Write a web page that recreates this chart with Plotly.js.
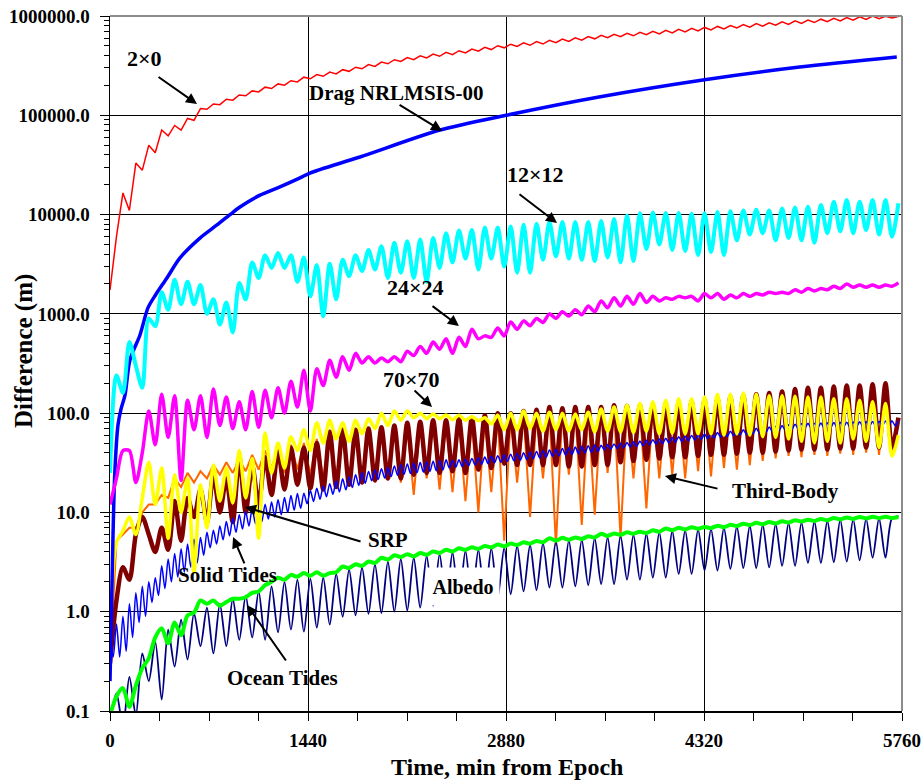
<!DOCTYPE html>
<html>
<head>
<meta charset="utf-8">
<script src="https://cdn.plot.ly/plotly-3.0.1.min.js"></script>
<style>html,body{margin:0;padding:0;background:#fff;}#chart{width:924px;height:780px;}</style>
</head>
<body>
<div id="chart"></div>
<script>
// ---- time grids (minutes from epoch) ----
const T_HALF = [0,47,94,141,188,235,282,329,376,423,470,517,564,611,658,705,752,799,846,893,940,987,1034,1081,1128,1175,1222,1269,1316,1363,1410,1457,1504,1551,1598,1645,1692,1739,1786,1833,1880,1927,1974,2021,2068,2115,2162,2209,2256,2303,2350,2397,2444,2491,2538,2585,2632,2679,2726,2773,2820,2867,2914,2961,3008,3055,3102,3149,3196,3243,3290,3337,3384,3431,3478,3525,3572,3619,3666,3713,3760,3807,3854,3901,3948,3995,4042,4089,4136,4183,4230,4277,4324,4371,4418,4465,4512,4559,4606,4653,4700,4747,4794,4841,4888,4935,4982,5029,5076,5123,5170,5217,5264,5311,5358,5405,5452,5499,5546,5593,5640,5687,5734];
const T_QUARTER = [0,23.5,47,70.5,94,117.5,141,164.5,188,211.5,235,258.5,282,305.5,329,352.5,376,399.5,423,446.5,470,493.5,517,540.5,564,587.5,611,634.5,658,681.5,705,728.5,752,775.5,799,822.5,846,869.5,893,916.5,940,963.5,987,1010.5,1034,1057.5,1081,1104.5,1128,1151.5,1175,1198.5,1222,1245.5,1269,1292.5,1316,1339.5,1363,1386.5,1410,1433.5,1457,1480.5,1504,1527.5,1551,1574.5,1598,1621.5,1645,1668.5,1692,1715.5,1739,1762.5,1786,1809.5,1833,1856.5,1880,1903.5,1927,1950.5,1974,1997.5,2021,2044.5,2068,2091.5,2115,2138.5,2162,2185.5,2209,2232.5,2256,2279.5,2303,2326.5,2350,2373.5,2397,2420.5,2444,2467.5,2491,2514.5,2538,2561.5,2585,2608.5,2632,2655.5,2679,2702.5,2726,2749.5,2773,2796.5,2820,2843.5,2867,2890.5,2914,2937.5,2961,2984.5,3008,3031.5,3055,3078.5,3102,3125.5,3149,3172.5,3196,3219.5,3243,3266.5,3290,3313.5,3337,3360.5,3384,3407.5,3431,3454.5,3478,3501.5,3525,3548.5,3572,3595.5,3619,3642.5,3666,3689.5,3713,3736.5,3760,3783.5,3807,3830.5,3854,3877.5,3901,3924.5,3948,3971.5,3995,4018.5,4042,4065.5,4089,4112.5,4136,4159.5,4183,4206.5,4230,4253.5,4277,4300.5,4324,4347.5,4371,4394.5,4418,4441.5,4465,4488.5,4512,4535.5,4559,4582.5,4606,4629.5,4653,4676.5,4700,4723.5,4747,4770.5,4794,4817.5,4841,4864.5,4888,4911.5,4935,4958.5,4982,5005.5,5029,5052.5,5076,5099.5,5123,5146.5,5170,5193.5,5217,5240.5,5264,5287.5,5311,5334.5,5358,5381.5,5405,5428.5,5452,5475.5,5499,5522.5,5546,5569.5,5593,5616.5,5640,5663.5,5687,5710.5,5734];
const DRAG_T = [0,15,22,35,58,80,109,145,218,276,331,414,509,654,778,873,945,1091,1236,1382,1454,1818,2400,2880,3556,4312,5016,5722];

// ---- series values (m) ----
const GRAV_2X0 = [1740,6000,16500,11000,33000,28000,50000,42000,71000,62000,79000,71000,93000,89000,117000,
115000,130000,128000,145000,142000,160000,157000,176000,172000,192000,
186000,207000,201000,223000,217000,242000,233000,257000,247000,272000,
261000,288000,277000,305000,294000,324000,311000,343000,330000,363000,
349000,382000,363000,397000,378000,413000,393000,430000,408000,447000,
425000,465000,442000,483000,459000,502000,478000,520000,493000,536000,
507000,552000,522000,569000,538000,585000,555000,603000,571000,621000,
589000,640000,604000,655000,618000,670000,632000,685000,647000,701000,
661000,716000,676000,733000,692000,750000,708000,767000,724000,785000,
740000,802000,757000,818000,773000,838000,791000,855000,807000,875000,
824000,893000,843000,912000,859000,929000,875000,946000,891000,964000,
908000,982000,925000,998000,942000,995000,957000,990000];
const DRAG = [0.2,2,6,25,76,110,152,343,613,1150,1550,2300,3660,5800,7860,10000,11900,15700,19000,23400,26200,38000,71000,100000,153000,227000,306000,386000];
const GRAV_12X12 = [25,240,160,520,300,180,900,750,1650,1100,
2200,1250,2100,1250,1950,1000,1400,780,1300,650,
2050,1400,3300,2300,3900,2900,4100,2900,3900,2100,
3700,1500,3100,950,3200,1400,3500,2400,3900,2700,
4400,2800,4800,2300,5200,2600,5400,2300,5600,2100,
5800,2900,6500,3300,6900,3600,7000,2800,7400,3600,
7400,3000,7600,2600,7900,2600,8100,3500,8400,3800,
8400,3600,8400,3500,8400,3400,8600,3700,9000,3300,
9800,3400,10300,4500,10500,5000,10400,4400,10400,4300,
10200,3900,10300,4200,10600,3900,10800,5500,11000,6300,
11200,6500,11000,5500,11500,5800,11800,5500,12000,5200,
12500,6500,13500,6800,14000,6500,13500,7000,14000,6300,
14000,6000,13000];
const GRAV_24X24 = [12,22,42,42,20,40,105,48,155,57,
150,21,135,68,150,57,175,75,145,70,
130,68,165,72,170,90,180,100,210,115,
270,105,280,190,340,230,370,270,400,320,
370,320,360,330,370,330,420,380,470,400,
520,440,560,400,580,470,700,560,600,580,
720,600,830,700,850,760,900,820,1000,900,
1050,950,1100,980,1200,1050,1350,1150,1450,1200,
1500,1250,1600,1300,1500,1350,1450,1400,1500,1450,
1500,1350,1600,1450,1600,1400,1550,1450,1600,1500,
1600,1550,1650,1600,1650,1600,1750,1650,1800,1700,
1800,1750,1900,1800,2000,1850,1950,1850,1950,1850,
1950,1900,2050];
const GRAV_70X70 = [0.6,5,6.5,9,6,14,32,12,28,5.5,
24,10,22,2.5,19,7,30,13,28,12.5,
42,14,35,5.5,63,25,50,28,58,42,
68,42,80,50,85,55,80,52,85,62,
88,70,100,75,105,85,105,90,100,88,
98,88,96,86,95,85,92,84,90,78,
95,68,100,68,105,70,100,66,102,68,
100,66,98,68,102,65,110,66,115,65,
120,64,125,66,130,62,135,63,140,62,
140,62,145,62,155,60,155,62,160,60,
155,58,150,57,150,55,148,52,145,50,
145,52,140,50,140,55,135,52,130,45,
125,37,60];
const SRP = [0.3,1.3,2.8,2.1,6,9,6,4,7,4.2,
13,5.2,14,9,17,8,24,10,22,8,
36,10,30,12,36,15,42,17,45,19,
45,17.5,50,17,65,18,68,19,68,20,
70,21,72,22,75,22,80,24,82,25,
85,25,85,26,88,25,90,27,95,28,
100,31,100,30,105,30,108,30,115,30,
112,29,115,29,115,30,115,30,120,32,
118,33,120,34,120,35,122,36,125,36,
130,37,135,38,140,38,145,39,150,40,
155,40,160,41,165,42,175,43,180,43,
180,43,185,44,190,44,190,45,195,45,
200,45,90];
const THIRD_BODY = [0.3,5.2,6,7,7,10,12,12,15,14,
22,18,25,20,26,22,30,24,32,25,
34,26,38,27,42,28,45,25,48,27,
50,24,55,22,60,22,62,21,65,20,
68,21,70,22,72,20,75,15,78,22,
80,17,82,16,85,13,86,10,90,16,
92,5.2,95,20,98,9,100,22,105,4.6,
108,24,110,7.5,110,9.5,112,25,115,5.5,
115,22,115,11,118,22,120,24,122,22,
125,26,130,23,132,28,135,27,138,30,
140,33,142,35,145,37,150,36,152,38,
155,37,160,39,160,38,162,40,165,38,
165,40,80];
const SOLID_TIDES = [0.6,0.35,0.75,0.35,0.9,0.4,1.2,0.55,1.55,0.78,
1.8,0.9,2.0,1.24,2.2,1.46,2.9,1.71,3.4,2.0,
3.85,2.23,4.3,2.5,4.8,2.8,5.4,3.1,5.6,3.7,
6.3,4.4,6.6,4.8,7.3,5.3,8.1,5.8,8.8,6.3,
9.5,6.8,10.2,7.3,10.9,7.7,11.5,8.1,12.1,8.6,
12.7,9.0,13.4,9.5,14.1,10.0,14.8,10.5,15.5,11.0,
15.6,12.2,16.6,12.9,17.5,13.6,18.5,14.4,19.5,15.2,
20.7,16.1,21.8,16.9,22.9,17.8,24,18.7,25.3,19.7,
25.9,20.9,26.7,21.5,27.5,22.2,28.4,23,29.4,23.7,
30.3,24.2,30.8,24.6,31.3,25.1,31.8,25.5,32.3,25.9,
32.8,26.3,33.3,26.7,33.9,28.1,33.3,28.6,33.9,29,
34.4,29.5,35,30.1,35.6,30.5,36.1,31,36.7,31.6,
37.3,32.1,38,32.6,38.6,33.1,39.3,33.7,39.9,34.2,
40.6,34.8,41.2,35.4,41.9,36,42.6,36.6,43.3,37.2,
44,37.8,44.7,38.4,45.5,39,46.2,39.6,47,40.3,
47.8,40.9,47.4,42.7,48.2,43.4,49,44.1,49.8,44.8,
50.6,45.5,51.5,46.2,52.4,47,53.2,47.8,54.1,48.5,
55,49.4,55.8,50.2,56.8,51,57.7,51.9,58.6,52.7,
59.7,53.6,60.7,54.5,61.7,55.3,62.7,56.2,63.7,57.3,
64.7,58.2,65.8,59.2,66.8,60.1,67.9,61.1,69.2,62.1,
70.3,63.1,71.4,64.1,72.6,65.2,73.8,66.4,75,67.5,
76.2,68.5,77.4,69.7,78.5,70.1,78.9,70.5,79.3,70.8,
79.6,71.1,80,71.4,80.4,71.8,80.8,72.1,81.1,72.4,
81.5,72.8,81.8,73.1,82.2,73.5,82.6,73.8,83,74.1,
83.4,74.5,83.8,74.8,84.1];
const OCEAN_TIDES = [0.09,0.14,0.17,0.11,0.18,0.27,0.34,0.55,0.68,0.48,
0.78,0.58,0.92,0.98,1.3,1.2,1.3,1.15,1.25,1.35,
1.35,1.4,1.55,1.6,1.85,2.0,2.2,2.1,2.35,2.25,
2.45,2.3,2.5,2.3,2.45,2.5,2.85,2.75,3.0,2.9,
3.2,3.1,3.5,3.35,3.7,3.55,3.8,3.6,3.9,3.75,
4.05,3.9,4.2,4.05,4.35,4.2,4.45,4.3,4.6,4.45,
4.75,4.55,4.85,4.7,5.0,4.85,5.15,5.0,5.5,5.2,
5.55,5.3,5.6,5.4,5.75,5.6,6.1,5.8,6.15,5.95,
6.3,6.1,6.4,6.2,6.6,6.4,6.9,6.6,7.0,6.75,
7.1,6.85,7.15,6.95,7.35,7.1,7.5,7.3,7.7,7.45,
7.85,7.6,8.0,7.75,8.15,7.9,8.35,8.1,8.45,8.2,
8.6,8.35,8.8,8.5,8.9,8.6,9.0,8.7,9.05,8.75,
9.05,8.8,9.0];
const ALBEDO = [0.08,0.15,0.07,0.22,0.09,0.38,0.2,0.5,0.13,0.66,
0.28,0.83,0.33,0.97,0.45,1.1,0.38,1.2,0.45,1.35,
0.52,1.45,0.55,1.6,0.52,1.8,0.62,2.0,0.66,2.1,
0.63,2.15,0.69,2.2,0.74,2.4,0.89,2.65,0.92,2.8,
0.95,3.0,0.97,3.2,1.0,3.4,1.03,3.5,1.1,3.65,
1.15,3.8,1.2,3.95,1.25,4.1,1.3,4.2,1.35,4.35,
1.4,4.4,1.5,4.6,1.6,4.7,1.65,4.9,1.75,5.1,
1.75,5.2,1.8,5.3,1.85,5.5,1.9,5.6,1.9,5.8,
2.1,5.95,2.1,6.1,2.2,6.3,2.2,6.5,2.4,6.6,
2.4,6.7,2.6,6.8,2.6,7.0,2.7,7.2,2.75,7.3,
2.75,7.5,2.8,7.6,2.9,7.8,2.9,7.9,3.1,8.1,
3.1,8.2,3.15,8.4,3.2,8.5,3.3,8.6,3.5,8.7,
3.5,8.7,9.2];

// ---- ticks ----
const X_TICK_VALS = [0,1440,2880,4320,5760];
const X_TICK_TEXT = ['0','1440','2880','4320','5760'];
const Y_TICK_VALS = [0.1,1,10,100,1000,10000,100000,1000000];
const Y_TICK_TEXT = ['0.1','1.0','10.0','100.0','1000.0','10000.0','100000.0','1000000.0'];

const FONT = 'Liberation Serif, Times New Roman, serif';

function tr(x, y, color, width, shape){
  return {type:'scatter', mode:'lines', x:x, y:y, hoverinfo:'skip',
    line:{color:color, width:width, shape:shape||'linear', smoothing:0.8}};
}

const data = [
  tr(T_HALF, THIRD_BODY, '#FF6600', 2),
  tr(T_HALF, SRP, '#800000', 4.5, 'spline'),
  tr(T_QUARTER, SOLID_TIDES, '#0000FF', 1.5, 'spline'),
  tr(T_HALF, ALBEDO, '#000080', 1.8, 'spline'),
  tr(T_HALF, OCEAN_TIDES, '#00FF00', 4, 'spline'),
  tr(T_HALF, GRAV_70X70, '#FFFF00', 3.5, 'spline'),
  tr(DRAG_T, DRAG, '#0000FF', 3.5, 'spline'),
  tr(T_HALF, GRAV_24X24, '#FF00FF', 3.5, 'spline'),
  tr(T_HALF, GRAV_12X12, '#00FFFF', 4, 'spline'),
  tr(T_HALF, GRAV_2X0, '#FF0000', 1.5)
];

const bold = (s)=>({family:FONT, size:s, color:'black', weight:'bold'});
function label(text, x, y, size){
  return {x:x, y:y, xref:'x', yref:'y', text:text, showarrow:false, font:bold(size||21)};
}
function arrow(hx, hy, tx, ty){
  return {x:hx, y:hy, ax:tx, ay:ty, xref:'x', yref:'y', axref:'x', ayref:'y', text:'',
    showarrow:true, arrowhead:2, arrowsize:1.1, arrowwidth:2, arrowcolor:'black'};
}

const layout = {
  width:924, height:780,
  margin:{l:110, r:22, t:16, b:69},
  paper_bgcolor:'white', plot_bgcolor:'white',
  showlegend:false,
  xaxis:{
    range:[0,5760], tickmode:'array', tickvals:X_TICK_VALS, ticktext:X_TICK_TEXT,
    ticks:'outside', ticklen:8, tickwidth:1, tickcolor:'black',
    showline:true, linecolor:'black', linewidth:1.5,
    showgrid:true, gridcolor:'black', gridwidth:1, zeroline:false,
    minor:{tickmode:'linear', tick0:0, dtick:360, ticks:'outside', ticklen:8, tickcolor:'black', showgrid:false},
    tickfont:bold(19), ticklabelstandoff:4
  },
  yaxis:{
    type:'log', range:[-1,6], tickmode:'array', tickvals:Y_TICK_VALS, ticktext:Y_TICK_TEXT,
    ticks:'outside', ticklen:9, tickwidth:1, tickcolor:'black',
    showline:true, linecolor:'black', linewidth:1.5,
    showgrid:true, gridcolor:'black', gridwidth:1, zeroline:false,
    minor:{dtick:'D1', ticks:'outside', ticklen:5, tickcolor:'black', showgrid:false},
    tickfont:bold(19), ticklabelstandoff:6
  },
  shapes:[
    {type:'line', xref:'paper', yref:'paper', x0:0, x1:1, y0:1, y1:1, line:{color:'#8c8c8c', width:2}},
    {type:'line', xref:'paper', yref:'paper', x0:1, x1:1, y0:0, y1:1, line:{color:'#8c8c8c', width:2}}
  ],
  annotations:[
    {xref:'paper', yref:'paper', x:0.501, y:-0.080, xanchor:'center', yanchor:'middle', showarrow:false,
     text:'Time, min from Epoch', font:bold(24)},
    {xref:'paper', yref:'paper', x:-0.1086, y:0.518, xanchor:'center', yanchor:'middle', showarrow:false,
     textangle:-90, text:'Difference (m)', font:bold(25)},
    label('2×0', 251, 5.577, 22), arrow(633, 5.114, 342, 5.396),
    label('Drag NRLMSIS-00', 2080, 5.224), arrow(2415, 4.842, 2095, 5.114),
    label('12×12', 3098, 4.399, 22), arrow(3251, 3.915, 2967, 4.217),
    label('24×24', 2225, 3.261, 22), arrow(2538, 2.878, 2335, 3.089),
    label('70×70', 2196, 2.334, 22), arrow(2342, 2.062, 2204, 2.243),
    label('Third-Body', 4916, 1.216), arrow(4036, 1.367, 4429, 1.236),
    label('SRP', 2022, 0.723), arrow(982, 1.055, 1833, 0.702),
    label('Solid Tides', 858, 0.370), arrow(895, 0.753, 982, 0.471),
    label('Ocean Tides', 1258, -0.667), arrow(996, 0.068, 1287, -0.506),
    {x:2567, y:0.249, xref:'x', yref:'y', text:'Albedo', showarrow:false, font:bold(20),
     bgcolor:'white', width:70, height:35}
  ]
};

Plotly.newPlot('chart', data, layout, {displayModeBar:false, staticPlot:true});
</script>
</body>
</html>
